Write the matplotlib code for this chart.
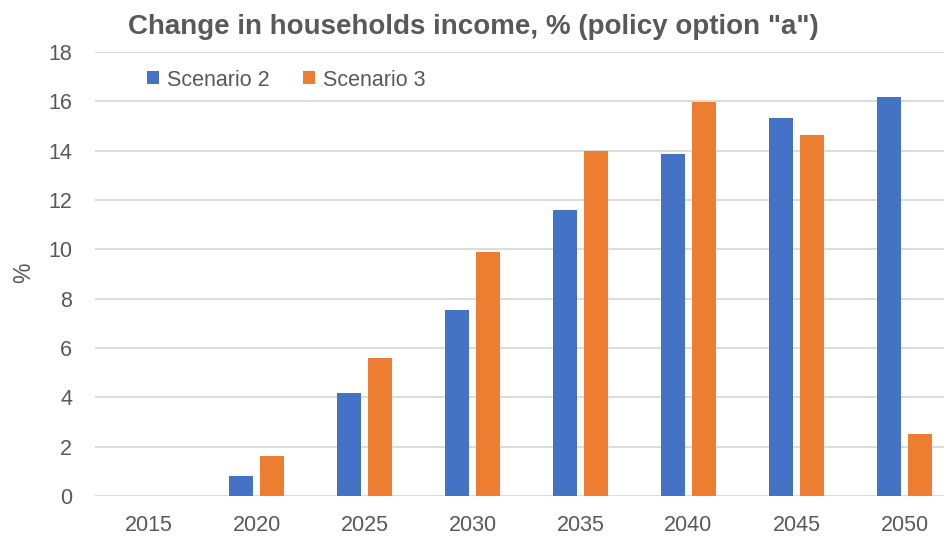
import matplotlib
matplotlib.use("Agg")
import matplotlib.pyplot as plt
import numpy as np

years = ["2015", "2020", "2025", "2030", "2035", "2040", "2045", "2050"]
scenario2 = [0.0, 0.81, 4.17, 7.53, 11.58, 13.88, 15.32, 16.16]
scenario3 = [0.0, 1.61, 5.59, 9.89, 14.0, 15.99, 14.62, 2.5]
series_names = ["Scenario 2", "Scenario 3"]
yticks = [0, 2, 4, 6, 8, 10, 12, 14, 16, 18]

plt.rcParams['font.family'] = ['Liberation Sans', 'DejaVu Sans']

gray = "#595959"
W, H = 945, 538
fig = plt.figure(figsize=(W / 100, H / 100), dpi=100)
ax = fig.add_axes([94.5 / W, 1 - 496 / H, 864 / W, 444 / H])

x = np.arange(len(years))
w = 0.222
off = 0.1435
ax.bar(x - off, scenario2, w, color="#4472C4", label=series_names[0], zorder=3)
ax.bar(x + off, scenario3, w, color="#ED7D31", label=series_names[1], zorder=3)

ax.set_xlim(-0.5, len(years) - 0.5)
ax.set_ylim(0, 18)
ax.set_yticks(yticks)
ax.set_xticks(x)
ax.set_xticklabels(years)
ax.grid(axis="y", color="#D9D9D9", linewidth=1.3, zorder=0)
for s in ax.spines.values():
    s.set_visible(False)
ax.tick_params(length=0, labelsize=15.5, colors=gray)
ax.tick_params(axis="x", pad=14)
ax.tick_params(axis="y", pad=16)

fig.text(24 / W, 1 - 273 / H, "%", rotation=90, ha="center", va="center",
         fontsize=16.5, color=gray)

fig.text(473 / W, 1 - 27 / H, 'Change in households income, % (policy option "a")',
         ha="center", va="center", fontsize=20, fontweight="bold", color=gray)

leg = ax.legend(loc="center left", bbox_to_anchor=(147 / W, 1 - 80 / H),
                bbox_transform=fig.transFigure, ncol=2, frameon=False,
                borderpad=0, borderaxespad=0,
                fontsize=15.5, handlelength=0.56, handleheight=0.56,
                handletextpad=0.37, columnspacing=1.53)
for t in leg.get_texts():
    t.set_color(gray)

fig.savefig("out.png", dpi=100)
